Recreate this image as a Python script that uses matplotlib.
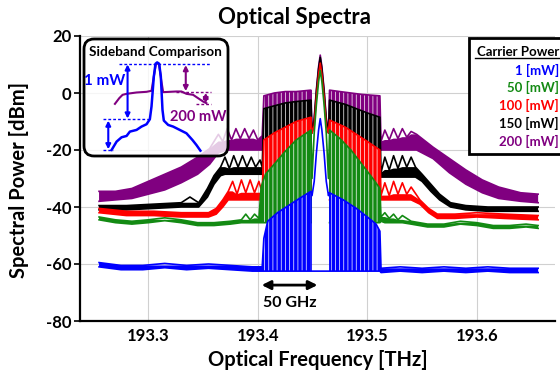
import matplotlib
matplotlib.use('Agg')
import matplotlib.pyplot as plt
import numpy as np
from matplotlib.patches import FancyBboxPatch, Rectangle
from matplotlib.lines import Line2D

plt.rcParams['font.family'] = ['Lato', 'DejaVu Sans']
plt.rcParams['font.weight'] = 'bold'
plt.rcParams['axes.unicode_minus'] = False
plt.rcParams['hatch.linewidth'] = 0.5

nan = np.nan

# carrier powers and colours
powers = ['1', '50', '100', '150', '200']
colors = ['#0000ff', '#138a13', '#ff0000', '#000000', '#800080']

# each trace bundle: (frequency [THz], upper edge [dBm], lower edge [dBm])
p200 = [
    (193.255, -34.5, -38.0), (193.270, -34.5, -37.5), (193.285, -33.5, -37.0),
    (193.300, -31.0, -35.5), (193.315, -28.5, -34.0), (193.330, -26.0, -31.5),
    (193.345, -22.5, -28.5), (193.356, -19.5, -25.0), (193.364, -14.5, -21.0),
    (193.368, -17.0, -20.5), (193.372, -12.5, -20.0), (193.376, -16.5, -20.0),
    (193.380, -12.5, -20.0), (193.384, -16.0, -20.0), (193.388, -12.5, -20.0),
    (193.392, -16.0, -20.0), (193.396, -13.0, -20.0), (193.400, -16.5, -20.0),
    (193.404, -15.0, -20.0), (193.4055, -1.0, -20.0), (193.415, 0.0, -20.0),
    (193.425, 0.5, -20.0), (193.435, 0.5, -20.0), (193.4485, 1.0, -20.0),
    (193.4495, -14.0, nan), (193.4515, -8.7, nan), (193.4535, 1.3, nan),
    (193.4555, 9.3, nan), (193.457, 13.3, nan), (193.4585, 9.3, nan),
    (193.4605, 1.3, nan), (193.4625, -8.7, nan), (193.4645, -14.0, nan),
    (193.4655, 1.0, -20.0), (193.475, 0.5, -20.0), (193.485, 0.0, -20.0),
    (193.495, -0.5, -20.0), (193.5115, -1.0, -20.0), (193.5125, -17.0, -20.0),
    (193.516, -13.0, -20.0), (193.520, -16.5, -20.0), (193.524, -12.5, -20.0),
    (193.528, -16.0, -20.0), (193.532, -12.5, -20.0), (193.536, -15.5, -20.0),
    (193.540, -13.5, -20.0), (193.545, -14.5, -20.0), (193.560, -19.0, -23.0),
    (193.575, -23.0, -28.0), (193.590, -27.0, -32.0), (193.605, -30.5, -35.0),
    (193.620, -33.0, -37.0), (193.640, -35.0, -38.0), (193.656, -35.5, -38.5),
]
p150 = [
    (193.255, -39.5, -41.0), (193.280, -39.5, -41.0), (193.305, -39.0, -40.5),
    (193.330, -38.5, -40.0), (193.338, -36.5, -40.0), (193.346, -38.5, -40.0),
    (193.354, -33.5, -36.5), (193.360, -29.0, -32.0), (193.366, -26.0, -29.0),
    (193.370, -22.5, -28.5), (193.374, -26.5, -28.5), (193.378, -22.0, -28.5),
    (193.382, -26.0, -28.5), (193.386, -22.0, -28.5), (193.390, -26.0, -28.5),
    (193.394, -22.5, -28.5), (193.398, -26.0, -28.5), (193.402, -23.5, -28.5),
    (193.404, -26.0, -28.5), (193.4055, -5.5, -28.5), (193.415, -4.5, -28.5),
    (193.425, -3.5, -28.5), (193.435, -3.0, -28.5), (193.4485, -2.5, -28.5),
    (193.4495, -14.0, nan), (193.4515, -9.5, nan), (193.4535, 0.5, nan),
    (193.4555, 8.5, nan), (193.457, 12.5, nan), (193.4585, 8.5, nan),
    (193.4605, 0.5, nan), (193.4625, -9.5, nan), (193.4645, -14.0, nan),
    (193.4655, -2.5, -28.5), (193.480, -4.0, -28.5), (193.490, -5.5, -28.5),
    (193.500, -7.0, -28.5), (193.5115, -8.5, -28.5), (193.5125, -28.0, -29.5),
    (193.516, -22.5, -29.5), (193.520, -27.0, -29.5), (193.524, -22.0, -29.5),
    (193.528, -26.5, -29.5), (193.532, -22.0, -29.5), (193.536, -26.0, -29.5),
    (193.540, -22.5, -29.5), (193.544, -26.0, -29.5), (193.550, -28.5, -31.0),
    (193.558, -32.0, -34.5), (193.566, -35.5, -37.5), (193.576, -38.5, -40.0),
    (193.590, -39.5, -41.0), (193.610, -40.0, -41.5), (193.656, -40.0, -41.5),
]
p100 = [
    (193.255, -40.5, -42.0), (193.280, -41.5, -43.0), (193.305, -41.5, -43.0),
    (193.330, -42.0, -43.5), (193.355, -42.0, -43.5), (193.362, -40.5, -42.5),
    (193.368, -37.5, -40.0), (193.373, -34.5, -37.5), (193.377, -31.0, -37.5),
    (193.381, -35.5, -37.5), (193.385, -30.5, -37.5), (193.389, -35.0, -37.5),
    (193.393, -30.5, -37.5), (193.397, -35.0, -37.5), (193.401, -31.0, -37.5),
    (193.404, -35.0, -37.5), (193.4055, -16.5, -37.5), (193.415, -14.0, -37.5),
    (193.425, -12.0, -37.5), (193.435, -10.0, -37.5), (193.4485, -8.5, -37.5),
    (193.4495, -14.0, nan), (193.4515, -11.5, nan), (193.4535, -1.5, nan),
    (193.4555, 6.5, nan), (193.457, 10.5, nan), (193.4585, 6.5, nan),
    (193.4605, -1.5, nan), (193.4625, -11.5, nan), (193.4645, -14.0, nan),
    (193.4655, -9.5, -37.5), (193.480, -12.0, -37.5), (193.490, -14.5, -37.5),
    (193.500, -17.0, -37.5), (193.5115, -20.0, -37.5), (193.5125, -36.0, -37.5),
    (193.516, -31.5, -37.5), (193.520, -36.0, -37.5), (193.524, -31.0, -37.5),
    (193.528, -35.5, -37.5), (193.532, -31.5, -37.5), (193.536, -35.5, -37.5),
    (193.540, -33.0, -37.5), (193.548, -37.5, -39.0), (193.556, -40.5, -42.0),
    (193.564, -42.5, -44.0), (193.580, -42.5, -44.0), (193.600, -42.0, -43.5),
    (193.625, -42.5, -44.0), (193.656, -43.0, -44.5),
]
p50 = [
    (193.255, -43.5, -44.5), (193.270, -44.5, -45.5), (193.285, -45.0, -46.0),
    (193.300, -44.5, -45.5), (193.315, -43.8, -44.8), (193.330, -44.5, -45.5),
    (193.345, -45.5, -46.5), (193.360, -45.5, -46.5), (193.375, -45.0, -46.0),
    (193.385, -44.5, -45.5), (193.389, -42.5, -45.5), (193.393, -44.5, -45.5),
    (193.397, -42.5, -45.5), (193.401, -44.0, -45.5), (193.403, -33.0, -45.5),
    (193.407, -28.5, -45.5), (193.415, -25.0, -45.5), (193.425, -20.5, -45.5),
    (193.435, -16.5, -45.5), (193.4485, -13.0, -45.5),
    (193.4495, -30.0, nan), (193.4515, -14.0, nan), (193.4535, -4.0, nan),
    (193.4555, 4.0, nan), (193.457, 8.0, nan), (193.4585, 4.0, nan),
    (193.4605, -4.0, nan), (193.4625, -14.0, nan), (193.4645, -30.0, nan),
    (193.4655, -13.0, -45.5), (193.475, -16.0, -45.5), (193.485, -20.0, -45.5),
    (193.495, -25.0, -45.5), (193.505, -30.0, -45.5), (193.5115, -33.5, -45.5),
    (193.5125, -43.5, -45.0), (193.516, -42.0, -45.5), (193.520, -44.0, -45.5),
    (193.524, -42.5, -45.5), (193.528, -44.5, -45.5), (193.532, -43.0, -45.5),
    (193.540, -45.0, -46.0), (193.555, -46.0, -47.0), (193.570, -46.0, -47.0),
    (193.585, -45.0, -46.0), (193.600, -45.5, -46.5), (193.615, -46.5, -47.5),
    (193.630, -46.5, -47.5), (193.645, -46.0, -47.0), (193.656, -46.5, -47.5),
]
p1 = [
    (193.255, -59.5, -61.0), (193.275, -60.5, -62.0), (193.295, -60.5, -62.0),
    (193.315, -59.8, -61.3), (193.335, -60.5, -62.0), (193.355, -60.0, -61.5),
    (193.375, -60.5, -62.0), (193.395, -61.0, -62.5), (193.404, -61.0, -62.5),
    (193.4055, -51.0, -62.5), (193.409, -45.0, -62.5), (193.418, -42.0, -62.5),
    (193.428, -39.5, -62.5), (193.438, -37.0, -62.5), (193.4485, -34.5, -62.5),
    (193.4495, -36.0, -62.5), (193.4515, -31.0, -62.5), (193.4535, -21.0, -62.5),
    (193.4555, -13.0, -62.5), (193.457, -9.0, -62.5), (193.4585, -13.0, -62.5),
    (193.4605, -21.0, -62.5), (193.4625, -31.0, -62.5), (193.4645, -36.0, -62.5),
    (193.4655, -35.0, -62.5), (193.478, -37.5, -62.5), (193.490, -40.5, -62.5),
    (193.500, -43.5, -62.5), (193.508, -46.0, -62.5), (193.5115, -48.5, -62.5),
    (193.5125, -61.5, -63.0), (193.530, -61.0, -62.5), (193.550, -61.5, -63.0),
    (193.570, -61.0, -62.5), (193.590, -61.5, -63.0), (193.610, -61.0, -62.5),
    (193.630, -61.5, -63.0), (193.656, -61.5, -63.0),
]
bundles = [p1, p50, p100, p150, p200]

# sideband fans (many overlapping sweeps) on each side of the carrier
fan_left = (193.403, 193.4485)
fan_right = (193.4655, 193.5115)

# inset sketch, in inset pixel units
inset_blue_x = [95, 110, 125, 140, 150, 170, 185, 200, 210, 215, 222, 227, 232, 238,
                243, 248, 252, 265, 280, 300, 320, 338, 350, 362]
inset_blue_y = [360, 335, 322, 318, 305, 300, 290, 283, 268, 230, 140, 102, 98, 102,
                140, 240, 272, 285, 290, 300, 310, 330, 345, 362]
inset_purple_x = [105, 118, 128, 140, 155, 170, 185, 200, 215, 222, 228, 233, 238,
                  244, 250, 270, 290, 305, 320, 340, 355, 370, 380]
inset_purple_y = [222, 205, 195, 192, 190, 188, 187, 186, 183, 140, 104, 100, 106,
                  150, 187, 186, 185, 185, 192, 195, 205, 215, 220]

fig = plt.figure(figsize=(5.6, 3.76), dpi=100)
ax = fig.add_axes([80 / 560, 55 / 376, 475 / 560, 285 / 376])

# draw highest power first so lower-power bundles sit on top
for i in range(len(bundles) - 1, -1, -1):
    f, hi, lo = np.array(bundles[i]).T
    c = colors[i]
    z = 2 + (4 - i)
    fan = ((f >= fan_left[0]) & (f <= fan_left[1])) | ((f >= fan_right[0]) & (f <= fan_right[1]))
    carrier = (f > fan_left[1]) & (f < fan_right[0])
    outer = ~fan & ~carrier
    # ripple lobes are outlines only: fill up to the troughs
    base = hi.copy()
    for j in range(1, len(f) - 1):
        if outer[j] and hi[j] > hi[j - 1] and hi[j] > hi[j + 1]:
            base[j] = max(hi[j - 1], hi[j + 1])
    ax.fill_between(f, lo, base, where=~carrier, color=c, lw=0, zorder=z)
    ax.fill_between(f, lo, hi, where=fan, facecolor='none', edgecolor='white',
                    hatch='||||', lw=0, zorder=z + 0.1)
    ax.plot(f, hi, color=c, lw=1.2, zorder=z + 0.2)
    ax.plot(f, lo, color=c, lw=1.2, zorder=z + 0.2)
    edges = np.isin(f, [fan_left[1], fan_right[0]])
    ax.vlines(f[edges], lo[edges], hi[edges], color=c, lw=1.2, zorder=z + 0.2)

ax.set_xlim(193.2376, 193.6714)
ax.set_ylim(-80, 20)
ax.set_xticks([193.3, 193.4, 193.5, 193.6])
ax.set_xticklabels(['193.3', '193.4', '193.5', '193.6'])
ax.set_yticks(range(-80, 21, 20))
ax.tick_params(axis='x', length=0, pad=5, labelsize=12)
ax.tick_params(axis='y', length=4, width=1.2, pad=2, labelsize=12)
ax.grid(True, color='#d0d0d0', lw=0.8)
ax.set_axisbelow(True)
for s in ['top', 'right']:
    ax.spines[s].set_visible(False)
for s in ['left', 'bottom']:
    ax.spines[s].set_linewidth(1.6)

# 50 GHz marker
ax.annotate('', xy=(193.401, -67.4), xytext=(193.457, -67.4),
            arrowprops=dict(arrowstyle='<|-|>', color='black', lw=2, mutation_scale=13),
            zorder=10)
ax.text(193.4294, -73.6, '50 GHz', ha='center', va='center', fontsize=11.5, zorder=10)

fig.text(294 / 560, 1 - 18 / 376, 'Optical Spectra', ha='center', va='center', fontsize=16)
fig.text(318 / 560, 1 - 360 / 376, 'Optical Frequency [THz]', ha='center', va='center', fontsize=14.5)
fig.text(19 / 560, 1 - 180 / 376, 'Spectral Power [dBm]', ha='center', va='center',
         rotation=90, fontsize=14.5)

# inset: sideband comparison
ins = fig.add_axes([84 / 560, 1 - 156 / 376, 144 / 560, 117 / 376])
ins.set_xlim(12, 445)
ins.set_ylim(378, 28)
ins.axis('off')
ins.add_patch(FancyBboxPatch((0, 0), 1, 1, boxstyle='round,pad=0,rounding_size=0.07',
                             mutation_aspect=144 / 117, transform=ins.transAxes,
                             facecolor=(1, 1, 1, 0.8), edgecolor='black', lw=2, clip_on=False))
blue, purple = colors[0], colors[4]
ins.plot(inset_purple_x, inset_purple_y, color=purple, lw=1.5)
ins.plot(inset_blue_x, inset_blue_y, color=blue, lw=1.8)
ins.plot([118, 395], [102, 102], color=blue, lw=1, ls=(0, (2, 1.5)))
ins.plot([68, 212], [268, 268], color=blue, lw=1, ls=(0, (2, 1.5)))
ins.plot([68, 100], [360, 360], color=blue, lw=1, ls=(0, (2, 1.5)))
ins.plot([290, 395], [187, 187], color=purple, lw=1, ls=(0, (2, 1.5)))
ins.plot([350, 395], [222, 222], color=purple, lw=1, ls=(0, (2, 1.5)))
for x0, y0, y1, c in [(143, 104, 266, blue), (85, 272, 358, blue),
                      (318, 106, 184, purple), (378, 189, 220, purple)]:
    ins.annotate('', xy=(x0, y0), xytext=(x0, y1),
                 arrowprops=dict(arrowstyle='<|-|>', color=c, lw=1.5, mutation_scale=7,
                                 shrinkA=0, shrinkB=0))
ins.text(228, 68, 'Sideband Comparison', ha='center', va='center', fontsize=9.8)
ins.text(75, 155, '1 mW', ha='center', va='center', fontsize=11, color=blue)
ins.text(355, 262, '200 mW', ha='center', va='center', fontsize=10.5, color=purple)

# carrier power key
fig.add_artist(Rectangle((469 / 560, 1 - 154 / 376), 95 / 560, 116 / 376,
                         transform=fig.transFigure, facecolor='white',
                         edgecolor='black', lw=2))
fig.text(559 / 560, 1 - 52 / 376, 'Carrier Power', ha='right', va='center', fontsize=9.5)
fig.add_artist(Line2D([475 / 560, 559 / 560], [1 - 58 / 376] * 2, color='black', lw=1))
for k, (pw, c) in enumerate(zip(powers, colors)):
    fig.text(559 / 560, 1 - (70 + 17.8 * k) / 376, pw + ' [mW]', ha='right', va='center',
             fontsize=9.5, color=c)

fig.savefig('out.png', dpi=100)
